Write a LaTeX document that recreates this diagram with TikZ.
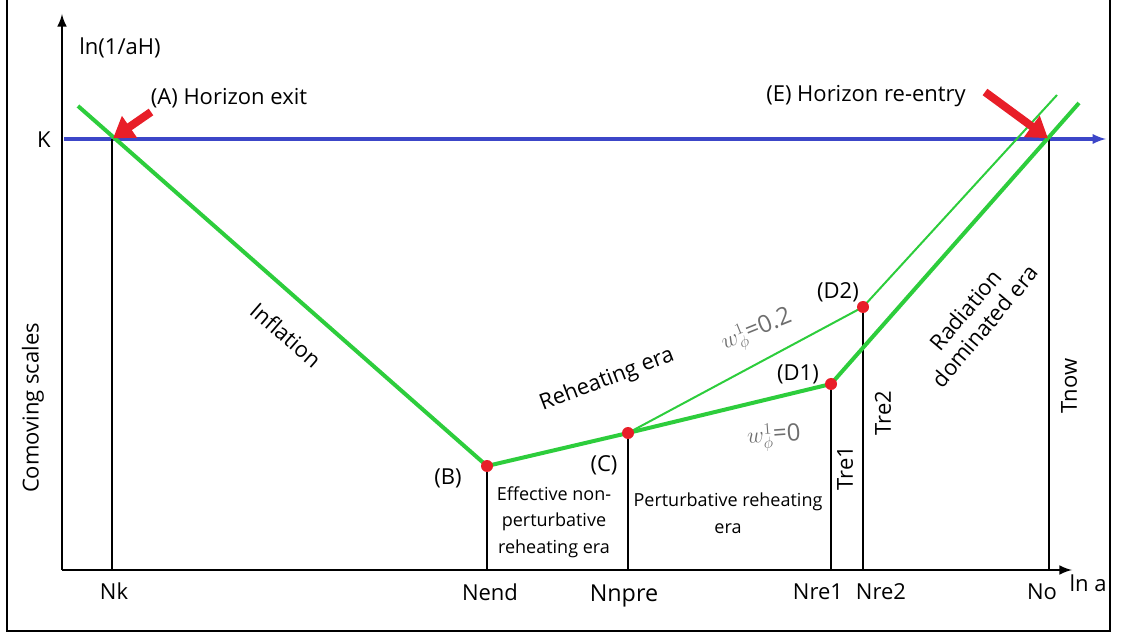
\documentclass[tikz,border=0pt]{standalone}
\usepackage{fontspec}
\setmainfont{Open Sans}
\usetikzlibrary{arrows, arrows.meta}
\definecolor{lgreen}{RGB}{45,205,60}
\definecolor{kblue}{RGB}{60,70,200}
\definecolor{dred}{RGB}{232,30,40}
\definecolor{wgray}{RGB}{110,110,110}
\tikzstyle{frame} = [line width=2.2pt]
\tikzstyle{axis} = [line width=2.2pt, -latex]
\tikzstyle{kline} = [kblue, line width=2.4pt, -latex]
\tikzstyle{vline} = [line width=2pt]
\tikzstyle{greenthick} = [lgreen, line width=3pt, line join=round]
\tikzstyle{greenthin} = [lgreen, line width=1.5pt, line join=round]
\tikzstyle{dot} = [circle, fill=dred, inner sep=0pt, minimum size=9pt]
\tikzstyle{redarrow} = [dred, line width=6pt, -{Triangle[length=15pt,width=19pt]}, shorten >=1pt]
\tikzstyle{lbl} = [font=\fontsize{16.5}{19}\selectfont]
\tikzstyle{small} = [font=\fontsize{13.5}{20}\selectfont, align=center]
\tikzstyle{wlbl} = [wgray, font=\fontsize{18}{20}\selectfont]

\begin{document}
\begin{tikzpicture}[x=0.75pt,y=-0.75pt]
\useasboundingbox (0,0) rectangle (1121,634);
\draw[frame] (7,-10) rectangle (1110,631);

% axes
\coordinate (O) at (62,570);
\coordinate (ytip) at (62,14);
\coordinate (xtip) at (1072,570);
\draw[axis] (O) -- (ytip);
\draw[axis] (O) -- (xtip);
\node[lbl] (ylabel) at (120,48) {ln(1/aH)};
\node[lbl] (xlabel) at (1088,583) {ln a};
\node[lbl, rotate=90] (scales) at (33,408) {Comoving scales};

% horizon scale K
\coordinate (K0) at (64,139);
\coordinate (Ktip) at (1106,139);
\draw[kline] (K0) -- (Ktip);
\node[lbl] (klabel) at (44,140) {K};

% points on the curve
\coordinate (start) at (78,106);
\coordinate (A) at (112,139);
\coordinate (B) at (487,466);
\coordinate (C) at (628,433);
\coordinate (D1) at (831,384);
\coordinate (D2) at (863,307);
\coordinate (E) at (1049,139);
\coordinate (end1) at (1079,103);
\coordinate (end2) at (1057,95);

\draw[vline] (A) -- (A |- O);
\draw[vline] (B) -- (B |- O);
\draw[vline] (C) -- (C |- O);
\draw[vline] (D1) -- (D1 |- O);
\draw[vline] (D2) -- (D2 |- O);
\draw[vline] (E) -- (E |- O);

\draw[greenthick] (start) -- (B) -- (C) -- (D1) -- (end1);
\draw[greenthin] (C) -- (D2) -- (end2);

\node[dot] (dotB) at (B) {};
\node[dot] (dotC) at (C) {};
\node[dot] (dotD1) at (D1) {};
\node[dot] (dotD2) at (D2) {};

% horizon exit / re-entry
\node[lbl] (exit) at (229,98) {(A) Horizon exit};
\node[lbl] (reentry) at (866,96) {(E) Horizon re-entry};
\coordinate (atail) at (151,112);
\coordinate (etail) at (985,92);
\draw[redarrow] (atail) -- (A);
\draw[redarrow] (etail) -- (E);

% point labels
\node[lbl] (labB) at (448,478) {(B)};
\node[lbl] (labC) at (604,465) {(C)};
\node[lbl] (labD1) at (798,374) {(D1)};
\node[lbl] (labD2) at (838,292) {(D2)};

% eras
\node[lbl, rotate=-41] (inflation) at (286,335) {Inflation};
\node[lbl, rotate=21] (reheating) at (607,380) {Reheating era};
\node[lbl, rotate=50, align=center] (radiation) at (975,318) {Radiation\\dominated era};
\node[wlbl, rotate=22] (w02) at (757,331) {$w^{1}_{\phi}$=0.2};
\node[wlbl, rotate=4] (w0) at (774,437) {$w^{1}_{\phi}$=0};
\node[small] (npre) at (554,522) {Effective non-\\perturbative\\reheating era};
\node[small] (pre) at (728,513) {Perturbative reheating\\era};

% temperatures
\node[lbl, rotate=90] (tre1) at (845,468) {Tre1};
\node[lbl, rotate=90] (tre2) at (883,413) {Tre2};
\node[lbl, rotate=90] (tnow) at (1069,386) {Tnow};

% e-folds
\node[lbl] (nk) at (114,591) {Nk};
\node[lbl] (nend) at (490,592) {Nend};
\node[lbl, font=\fontsize{17.5}{19}\selectfont] (nnpre) at (624,596) {Nnpre};
\node[lbl] (nre1) at (818,592) {Nre1};
\node[lbl] (nre2) at (881,592) {Nre2};
\node[lbl] (no) at (1042,592) {No};
\end{tikzpicture}
\end{document}
